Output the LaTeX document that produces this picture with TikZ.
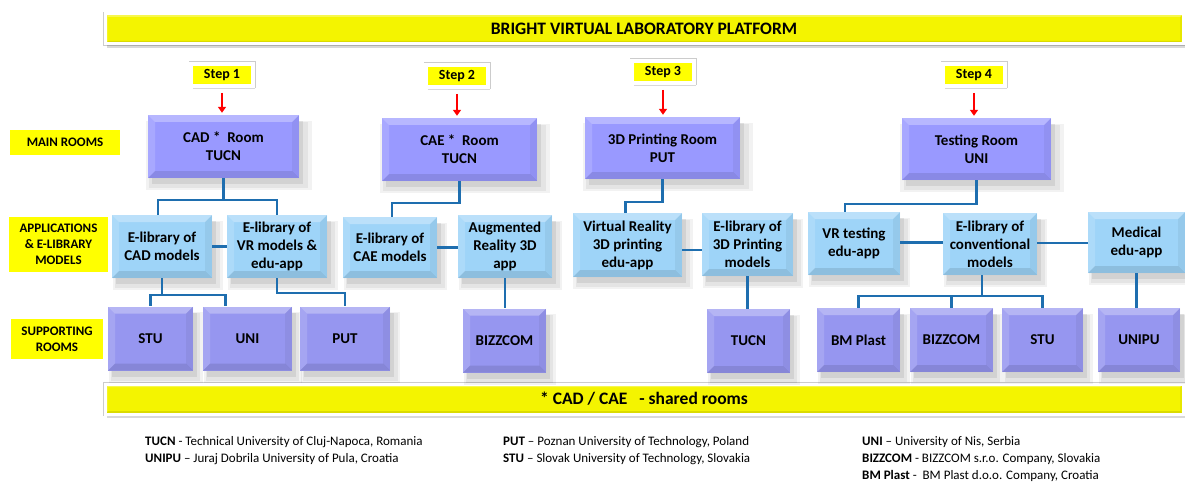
\documentclass[tikz,border=0pt]{standalone}
\usepackage{fontspec}
\setmainfont{Carlito}
\usetikzlibrary{shadows,arrows.meta}

\definecolor{roomcol}{RGB}{153,153,255}
\definecolor{appcol}{RGB}{158,212,248}
\definecolor{supcol}{RGB}{150,150,240}
\definecolor{linkcol}{RGB}{30,110,175}
\definecolor{bannercol}{RGB}{244,244,0}
\definecolor{tagcol}{RGB}{255,255,0}

\tikzset{
  bevel/.style={path picture={
    \path (path picture bounding box.north west) coordinate (pNW)
          (path picture bounding box.north east) coordinate (pNE)
          (path picture bounding box.south west) coordinate (pSW)
          (path picture bounding box.south east) coordinate (pSE);
    \fill[white,opacity=.3] (pNW) -- (pNE) -- ([shift={(-#1,-#1)}]pNE) -- ([shift={(#1,-#1)}]pNW) -- cycle;
    \fill[white,opacity=.15] (pNW) -- ([shift={(#1,-#1)}]pNW) -- ([shift={(#1,#1)}]pSW) -- (pSW) -- cycle;
    \fill[black,opacity=.1] (pSW) -- ([shift={(#1,#1)}]pSW) -- ([shift={(-#1,#1)}]pSE) -- (pSE) -- cycle;
    \fill[black,opacity=.05] (pNE) -- (pSE) -- ([shift={(-#1,#1)}]pSE) -- ([shift={(-#1,-#1)}]pNE) -- cycle;
  }},
  bevel/.default=7pt,
  boxshadow/.style={
    general shadow={fill=black, opacity=.05, shadow xshift=5pt, shadow yshift=-8pt, shadow scale=1.1},
    general shadow={fill=black, opacity=.06, shadow xshift=5pt, shadow yshift=-8pt, shadow scale=1.05},
    general shadow={fill=black, opacity=.08, shadow xshift=4pt, shadow yshift=-6pt}},
  framed/.style={preaction={draw=black!20, line width=#1+1pt}, draw=white, line width=#1},
  room/.style={fill=roomcol, bevel, boxshadow, align=center, inner sep=0pt,
    font=\fontsize{15}{18}\selectfont\bfseries},
  app/.style={fill=appcol, bevel, boxshadow, align=center, inner sep=0pt,
    font=\fontsize{15}{18}\selectfont\bfseries},
  support/.style={fill=supcol, bevel, boxshadow, align=center, inner sep=0pt,
    minimum width=83pt, minimum height=64pt, font=\fontsize{15}{18}\selectfont\bfseries},
  tag/.style={fill=tagcol, align=center, inner sep=0pt,
    font=\fontsize{13}{16}\selectfont\bfseries},
  stepbox/.style={fill=tagcol, framed=4pt, bevel=2pt,
    drop shadow={shadow xshift=2pt, shadow yshift=-3pt, fill=black, opacity=.15},
    minimum width=62pt, minimum height=22pt, inner sep=0pt,
    font=\fontsize{14}{16}\selectfont\bfseries},
  banner/.style={fill=bannercol, framed=3pt, bevel=3pt,
    drop shadow={shadow xshift=2pt, shadow yshift=-4pt, fill=black, opacity=.15},
    minimum width=1078pt, minimum height=30pt, inner sep=0pt,
    font=\fontsize{17.5}{20}\selectfont\bfseries},
  legend/.style={anchor=west, inner sep=0pt, font=\fontsize{13}{15}\selectfont},
  link/.style={draw=linkcol, line width=2.5pt},
  stepto/.style={draw=red, line width=2pt, -{Triangle[length=6pt,width=8pt]},
    shorten <=5pt, shorten >=2pt},
}

\begin{document}
\begin{tikzpicture}[x=1pt, y=-1pt]
  \useasboundingbox (0,0) rectangle (1185,484);

  % banners
  \node[banner] (top) at (644,29) {BRIGHT VIRTUAL LABORATORY PLATFORM};
  \node[banner] (bottom) at (644,399) {* CAD / CAE~~ - shared rooms};

  % row labels
  \node[tag, minimum width=110pt, minimum height=25pt] (lmain) at (65,142.5) {MAIN ROOMS};
  \node[tag, minimum width=99pt, minimum height=55pt] (lapp) at (58.5,244.5) {APPLICATIONS\\\& E-LIBRARY\\MODELS};
  \node[tag, minimum width=92pt, minimum height=40pt] (lsup) at (57,339) {SUPPORTING\\ROOMS};

  % steps
  \node[stepbox] (s1) at (222,75) {Step 1};
  \node[stepbox] (s2) at (457,76) {Step 2};
  \node[stepbox] (s3) at (663,72) {Step 3};
  \node[stepbox] (s4) at (974,75) {Step 4};

  % main rooms
  \node[room, minimum width=151pt, minimum height=63pt] (cad) at (223.5,146.5) {CAD *~ Room\\TUCN};
  \node[room, minimum width=155pt, minimum height=63pt] (cae) at (459.5,149.5) {CAE *~ Room\\TUCN};
  \node[room, minimum width=155pt, minimum height=62pt] (print) at (662.5,148) {3D Printing Room\\PUT};
  \node[room, minimum width=149pt, minimum height=62pt] (test) at (976.5,149) {Testing Room\\UNI};

  \draw[stepto] (s1.south) -- (s1.south |- cad.north);
  \draw[stepto] (s2.south) -- (s2.south |- cae.north);
  \draw[stepto] (s3.south) -- (s3.south |- print.north);
  \draw[stepto] (s4.south) -- (s4.south |- test.north);

  % applications and e-libraries
  \node[app, minimum width=100pt, minimum height=63pt] (ecad) at (162,246.5) {E-library of\\CAD models};
  \node[app, minimum width=100pt, minimum height=63pt] (evr) at (277,246.5) {E-library of\\VR models \&\\edu-app};
  \node[app, minimum width=94pt, minimum height=61pt] (ecae) at (390,247.5) {E-library of\\CAE models};
  \node[app, minimum width=94pt, minimum height=63pt] (aug) at (505,246.5) {Augmented\\Reality 3D\\app};
  \node[app, minimum width=109pt, minimum height=64pt] (vrp) at (627.5,245) {Virtual Reality\\3D printing\\edu-app};
  \node[app, minimum width=91pt, minimum height=63pt] (e3d) at (747.5,244.5) {E-library of\\3D Printing\\models};
  \node[app, minimum width=92pt, minimum height=63pt] (vrt) at (854,243.5) {VR testing\\edu-app};
  \node[app, minimum width=94pt, minimum height=62pt] (conv) at (990,244) {E-library of\\conventional\\models};
  \node[app, minimum width=97pt, minimum height=61pt] (med) at (1136.5,242.5) {Medical\\edu-app};

  % supporting rooms
  \node[support, minimum width=85pt] (stu1) at (150.5,338.5) {STU};
  \node[support, minimum width=89pt] (uni) at (247.5,338.5) {UNI};
  \node[support, minimum width=90pt] (put) at (345,338.5) {PUT};
  \node[support] (biz1) at (504.5,340.5) {BIZZCOM};
  \node[support] (tucn) at (748.5,341) {TUCN};
  \node[support] (bmp) at (858.5,340) {BM Plast};
  \node[support] (biz2) at (951.5,340) {BIZZCOM};
  \node[support, minimum width=81pt] (stu2) at (1042.5,340) {STU};
  \node[support, minimum width=82pt] (unipu) at (1139,340) {UNIPU};

  % rooms to applications
  \draw[link] (cad.south) -- ++(0,22) coordinate (jcad);
  \draw[link] (jcad) -| ([xshift=-4pt]ecad.north);
  \draw[link] (jcad) -| (evr.north);
  \draw[link] (cae.south) -- ++(0,22) -| ([xshift=2pt]ecae.north);
  \draw[link] (print.south) -- ++(0,23) -| ([xshift=-2pt]vrp.north);
  \draw[link] (test.south) -- ++(0,24) -| ([xshift=-9pt]vrt.north);

  % within the application row
  \draw[link] (ecad.east) -- (evr.west);
  \draw[link] (ecae.east) -- (ecae.east -| aug.west);
  \draw[link] ([yshift=-5pt]vrp.east) -- ([yshift=-5pt]vrp.east -| e3d.west);
  \draw[link] ([yshift=1pt]vrt.east) -- ([yshift=1pt]vrt.east -| conv.west);
  \draw[link] ([yshift=1pt]conv.east) -- ([yshift=1pt]conv.east -| med.west);

  % applications to supporting rooms
  \draw[link] (ecad.south) -- ++(0,17) coordinate (jecad);
  \draw[link] (jecad) -| (stu1.north);
  \draw[link] (jecad) -| ([xshift=-22pt]uni.north);
  \draw[link] (evr.south) -- ++(0,15) -| (put.north);
  \draw[link] (aug.south) -- (aug.south |- biz1.north);
  \draw[link] (e3d.south) -- (e3d.south |- tucn.north);
  \draw[link] ([xshift=-8pt]conv.south) -- ++(0,21) coordinate (jconv);
  \draw[link] (jconv) -| (bmp.north);
  \draw[link] (jconv) -| (biz2.north);
  \draw[link] (jconv) -| (stu2.north);
  \draw[link] (med.south) -- (med.south |- unipu.north);

  % legend
  \node[legend] (lgtucn) at (145,442) {\textbf{TUCN} - Technical University of Cluj-Napoca, Romania};
  \node[legend] (lgunipu) at (145,459) {\textbf{UNIPU} -- Juraj Dobrila University of Pula, Croatia};
  \node[legend] (lgput) at (503,442) {\textbf{PUT} -- Poznan University of Technology, Poland};
  \node[legend] (lgstu) at (503,459) {\textbf{STU} -- Slovak University of Technology, Slovakia};
  \node[legend] (lguni) at (862,442) {\textbf{UNI} -- University of Nis, Serbia};
  \node[legend] (lgbiz) at (862,459) {\textbf{BIZZCOM} - BIZZCOM s.r.o. Company, Slovakia};
  \node[legend] (lgbmp) at (862,476) {\textbf{BM Plast} -~ BM Plast d.o.o. Company, Croatia};
\end{tikzpicture}
\end{document}
